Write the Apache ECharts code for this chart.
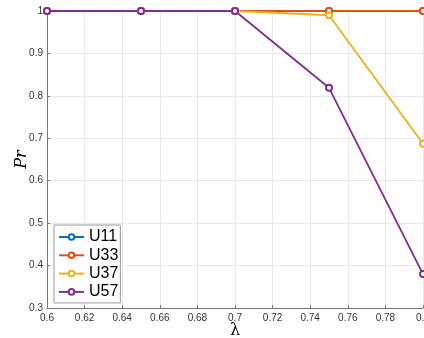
<!DOCTYPE html>
<html><head><meta charset="utf-8">
<script src="https://cdn.jsdelivr.net/npm/echarts@6/dist/echarts.min.js"></script>
<style>html,body{margin:0;padding:0;background:#fff}#c{width:424px;height:338px}</style>
</head><body><div id="c"></div>
<script>
const lambdas = [0.6, 0.65, 0.7, 0.75, 0.8];
const seriesNames = ['U11', 'U33', 'U37', 'U57'];
const U11 = [1, 1, 1, 1, 1];
const U33 = [1, 1, 1, 1, 1];
const U37 = [1, 1, 1, 0.99, 0.687];
const U57 = [1, 1, 1, 0.819, 0.38];
const colors = ['#0072BD', '#D95319', '#EDB120', '#7E2F8E'];
const values = [U11, U33, U37, U57];

const chart = echarts.init(document.getElementById('c'), null, {renderer: 'canvas'});
const font = 'Liberation Sans, Arial, Helvetica, sans-serif';
chart.setOption({
  animation: false,
  backgroundColor: '#fff',
  grid: {left: 47, right: 1, top: 11, bottom: 30, containLabel: false, outerBoundsMode: 'none'},
  legend: {
    orient: 'vertical', left: 54, top: 225,
    data: seriesNames,
    itemWidth: 25, itemHeight: 7, itemGap: 2.3, padding: [4, 2, 3, 4],
    borderColor: '#999', borderWidth: 1, backgroundColor: '#fff',
    textStyle: {fontFamily: font, fontSize: 16, lineHeight: 16, color: '#000'}
  },
  xAxis: {
    type: 'value', min: 0.6, max: 0.8, interval: 0.02,
    name: 'λ', nameLocation: 'middle', nameGap: 15, nameMoveOverlap: false,
    nameTextStyle: {fontFamily: 'DejaVu Serif, serif', fontSize: 16, color: '#000'},
    axisLine: {show: true, lineStyle: {color: '#777', width: 1}},
    axisTick: {show: true, inside: true, length: 3, lineStyle: {color: '#777'}},
    axisLabel: {fontFamily: font, fontSize: 10, color: '#333', margin: 5},
    splitLine: {show: true, lineStyle: {color: '#e8e8e8', width: 1}}
  },
  yAxis: {
    type: 'value', min: 0.3, max: 1, interval: 0.1,
    name: 'Pr', nameLocation: 'middle', nameGap: 17, nameRotate: 90, nameMoveOverlap: false,
    nameTextStyle: {fontFamily: 'DejaVu Serif, serif', fontStyle: 'italic', fontSize: 16, color: '#000'},
    axisLine: {show: true, lineStyle: {color: '#777', width: 1}},
    axisTick: {show: true, inside: true, length: 3, lineStyle: {color: '#777'}},
    axisLabel: {fontFamily: font, fontSize: 10, color: '#333', margin: 4},
    splitLine: {show: true, lineStyle: {color: '#e8e8e8', width: 1}}
  },
  series: seriesNames.map((n, i) => ({
    name: n, type: 'line',
    data: lambdas.map((x, j) => [x, values[i][j]]),
    symbol: 'emptyCircle', symbolSize: 6,
    color: colors[i],
    lineStyle: {width: 1.8, color: colors[i]},
    itemStyle: {color: colors[i], borderColor: colors[i], borderWidth: 1.5},
    clip: false
  }))
});
</script></body></html>
